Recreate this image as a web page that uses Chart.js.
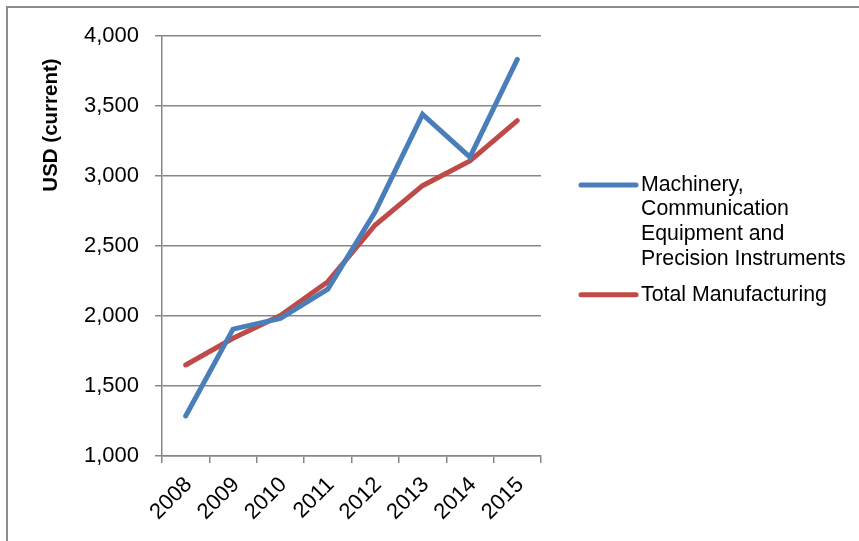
<!DOCTYPE html>
<html>
<head>
<meta charset="utf-8">
<script src="https://cdn.jsdelivr.net/npm/chart.js@4/dist/chart.umd.min.js"></script>
<style>
  html, body { margin: 0; padding: 0; background: #ffffff; }
  #wrap { position: relative; width: 859px; height: 541px; }
</style>
</head>
<body>
<div id="wrap"><canvas id="chart" width="859" height="541"></canvas></div>
<script>
// Years on the category axis
const years = ['2008', '2009', '2010', '2011', '2012', '2013', '2014', '2015'];

// Series values, USD (current)
const machinery = [1286, 1906, 1983, 2192, 2745, 3440, 3135, 3833];
const totalManufacturing = [1650, 1841, 2003, 2245, 2650, 2931, 3107, 3395];

// Legend text, one entry per line
const machineryLabel = ['Machinery,', 'Communication', 'Equipment and', 'Precision Instruments'];
const totalLabel = ['Total Manufacturing'];

// Value axis ticks
const yMin = 1000, yMax = 4000, yStep = 500;
const yTitle = 'USD (current)';

const FONT = "'Liberation Sans', Arial, sans-serif";
const GRID = '#878787';

// Outer frame of the chart object (top and left edges)
const framePlugin = {
  id: 'frame',
  beforeDraw(chart) {
    const ctx = chart.ctx;
    ctx.save();
    ctx.strokeStyle = '#8c8c8c';
    ctx.lineWidth = 2;
    ctx.beginPath();
    ctx.moveTo(7, chart.height);
    ctx.lineTo(7, 7);
    ctx.lineTo(chart.width, 7);
    ctx.stroke();
    ctx.restore();
  }
};

// Rotated value-axis title placed near the upper part of the axis
const yTitlePlugin = {
  id: 'yTitle',
  afterDraw(chart) {
    const ctx = chart.ctx;
    const area = chart.chartArea;
    ctx.save();
    ctx.translate(51, area.top + 89);
    ctx.rotate(-Math.PI / 2);
    ctx.font = 'bold 20.5px ' + FONT;
    ctx.fillStyle = '#000000';
    ctx.textAlign = 'center';
    ctx.textBaseline = 'middle';
    ctx.fillText(yTitle, 0, 0);
    ctx.restore();
  }
};

// Legend to the right of the plot, with wrapped series names
const sideLegendPlugin = {
  id: 'sideLegend',
  afterDraw(chart) {
    const ctx = chart.ctx;
    const area = chart.chartArea;
    const x0 = area.right + 40;
    const x1 = x0 + 55;
    const tx = x1 + 5;
    const lineH = 24.6;
    let y = 185;
    ctx.save();
    ctx.font = '21.3px ' + FONT;
    ctx.textBaseline = 'middle';
    ctx.textAlign = 'left';
    chart.data.datasets.forEach((ds) => {
      ctx.strokeStyle = ds.borderColor;
      ctx.lineWidth = 5;
      ctx.lineCap = 'round';
      ctx.beginPath();
      ctx.moveTo(x0, y);
      ctx.lineTo(x1, y);
      ctx.stroke();
      ctx.fillStyle = '#000000';
      ds.legendLines.forEach((line, i) => {
        ctx.fillText(line, tx, y + i * lineH);
      });
      y += (ds.legendLines.length - 1) * lineH + 36;
    });
    ctx.restore();
  }
};

new Chart(document.getElementById('chart'), {
  type: 'line',
  data: {
    labels: years,
    datasets: [
      {
        label: machineryLabel.join(' '),
        legendLines: machineryLabel,
        data: machinery,
        borderColor: '#4a7ebb',
        borderWidth: 5,
        borderCapStyle: 'round',
        borderJoinStyle: 'miter',
        pointRadius: 0,
        tension: 0,
        fill: false
      },
      {
        label: totalLabel.join(' '),
        legendLines: totalLabel,
        data: totalManufacturing,
        borderColor: '#be4b48',
        borderWidth: 5,
        borderCapStyle: 'round',
        borderJoinStyle: 'miter',
        pointRadius: 0,
        tension: 0,
        fill: false
      }
    ]
  },
  options: {
    responsive: false,
    animation: false,
    layout: { padding: { top: 36, right: 318, bottom: 0, left: 0 } },
    plugins: {
      legend: { display: false },
      tooltip: { enabled: false },
      title: { display: false }
    },
    scales: {
      x: {
        type: 'category',
        offset: true,
        grid: {
          offset: true,
          drawOnChartArea: false,
          drawTicks: true,
          tickLength: 7,
          color: GRID,
          lineWidth: 1.5
        },
        border: { display: true, color: GRID, width: 1.5 },
        ticks: {
          color: '#000000',
          font: { family: FONT, size: 22 },
          minRotation: 45,
          maxRotation: 45,
          padding: 9,
          labelOffset: 3,
          autoSkip: false
        },
        afterFit(scale) { scale.height = 85; }
      },
      y: {
        min: yMin,
        max: yMax,
        grid: {
          color: GRID,
          lineWidth: 1.5,
          drawTicks: true,
          tickLength: 7
        },
        border: { display: true, color: GRID, width: 1.5 },
        ticks: {
          stepSize: yStep,
          color: '#000000',
          font: { family: FONT, size: 22 },
          padding: 16,
          callback: (v) => Number(v).toLocaleString('en-US')
        },
        afterFit(scale) { scale.width = 162; }
      }
    }
  },
  plugins: [framePlugin, yTitlePlugin, sideLegendPlugin]
});
</script>
</body>
</html>
